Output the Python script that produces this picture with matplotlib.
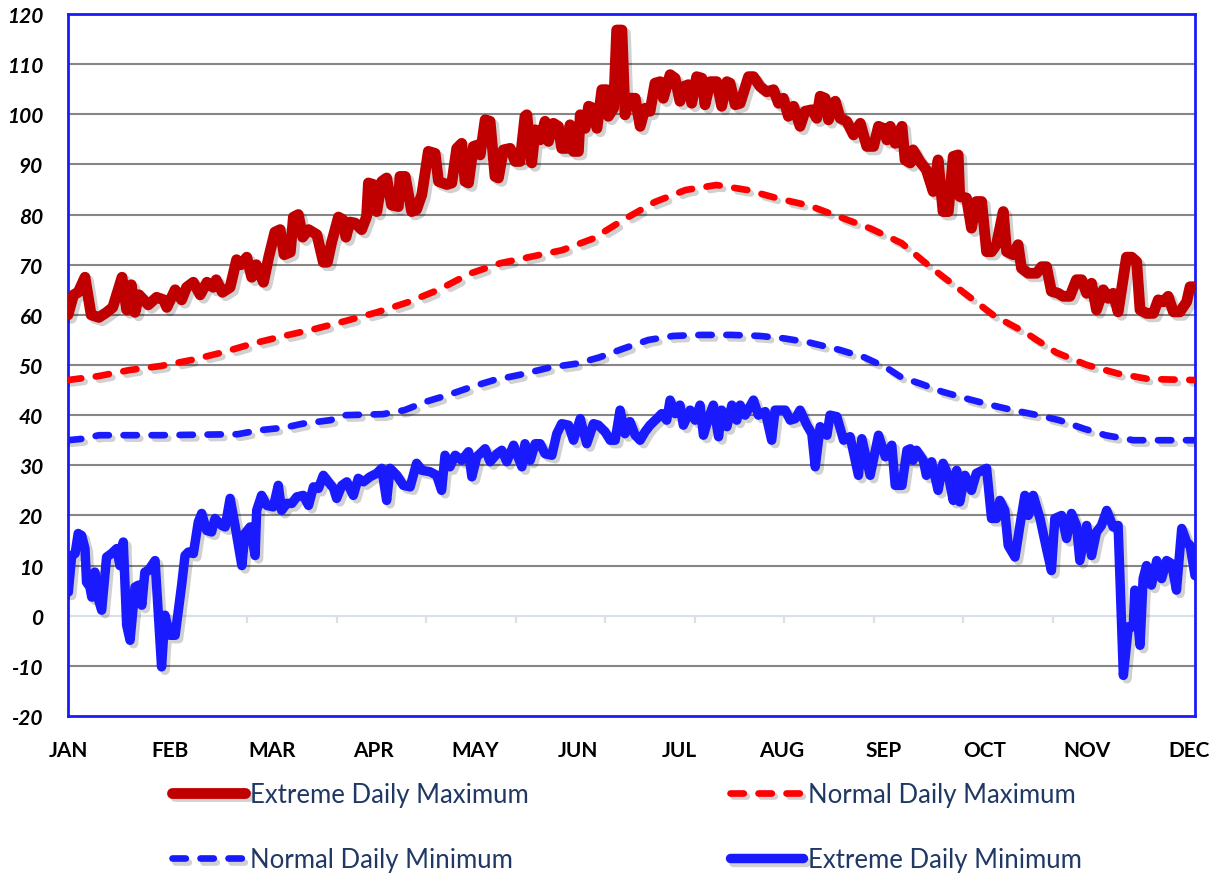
import numpy as np
import matplotlib
matplotlib.use("Agg")
import matplotlib.pyplot as plt
import matplotlib.patheffects as pe

plt.rcParams['font.family'] = ['Lato', 'DejaVu Sans']

# -----------------------------
# data (day of year, degrees F)
# -----------------------------
ext_max_days = [0, 1.8, 3.3, 5.5, 7.5, 10, 12.5, 14.5, 17.5, 19, 20.5, 21.7, 23, 26, 28.7, 31, 32, 34.7,
                36.8, 38.4, 40.6, 42.8, 45, 47, 48, 50, 52.5, 54.6, 56, 57.9, 59.5, 61, 63.3, 65, 67,
                68.7, 70, 72, 73, 74.6, 76, 77.9, 80.6, 82.7, 84, 85.4, 87.6, 89, 90, 91.3, 93, 95.1,
                96.7, 97.3, 98.9, 100, 101.6, 103.2, 104.8, 107, 107.5, 109.2, 111.3, 112.9, 114.6,
                116.7, 118.9, 120, 122.7, 124.3, 125.9, 127.5, 128.6, 129.7, 131.3, 132.9, 133.5,
                135.1, 136.7, 138.3, 139.4, 141, 143.2, 144.8, 146.4, 148, 148.6, 150.2, 151.3, 152.9,
                154.5, 155.6, 157.2, 158.8, 159.9, 161.5, 162.6, 163.7, 165.3, 165.9, 167.5, 168.6,
                170.2, 171.3, 172.9, 174.5, 175, 176.7, 177.7, 179.4, 180.4, 182, 183.7, 185.3, 186.9,
                188.5, 190.1, 191.8, 192.8, 195, 196.6, 198.2, 199.3, 200.9, 202, 203.6, 205.3, 206.3,
                208, 210.1, 211.7, 213.4, 214.4, 216.1, 217.7, 220.4, 222, 224.2, 226.3, 228.5, 230.1,
                231.7, 233.3, 235, 237.1, 238.7, 240.9, 242.5, 243.6, 245.2, 246.3, 248.5, 250.1,
                252.2, 254.4, 256.6, 258.7, 260.9, 262.5, 264.1, 265.2, 266.3, 267.9, 270.1, 271.1,
                272.8, 273.7, 275.9, 278, 280.2, 281.8, 283.4, 285.1, 286.7, 288.3, 288.8, 291, 292.6,
                294.2, 295.9, 297.5, 299.1, 300.7, 302.9, 304, 306.1, 307.7, 308.8, 311, 313.7, 315.3,
                316.9, 318.5, 320.7, 322.3, 324.5, 326.6, 328.3, 329.9, 331.5, 333.1, 335.3, 336.9,
                338.5, 340.1, 342.8, 344.5, 346.1, 347.2, 349.3, 351.5, 353.1, 354.7, 356.3, 358,
                360.1, 362.3, 363.4, 365]
ext_max_vals = [60, 64, 64.5, 67.5, 60, 59.5, 60.5, 61.5, 67.5, 61, 66, 60.5, 64, 62, 63.5, 63, 61.5, 65,
                63, 65.5, 66.5, 64, 66.5, 65.5, 67, 64.5, 65.5, 71, 70, 71.5, 67.5, 70, 66.5, 71.5, 76.5,
                77, 72, 72.5, 79.5, 80, 75.5, 77, 76, 70.5, 70.5, 74.5, 79.5, 79, 75.5, 78.5, 78.3, 77,
                79.6, 86.3, 86, 80.6, 86.6, 87.3, 81.9, 81.6, 87.6, 87.6, 80.6, 81, 84,
                92.6, 92.2, 86.6, 86, 86.3, 93.2, 94.2, 86.6, 86.3, 93.6, 93.9, 91.9,
                98.9, 98.6, 87.6, 87.3, 92.9, 93.2, 90.6, 90.6, 99.6, 99.9, 90.3, 96.9, 94.9,
                98.6, 94.6, 98.2, 97.6, 93.2, 93.2, 97.9, 92.6, 92.6, 99.9, 97.2, 101.6,
                101.2, 97.2, 104.9, 104.9, 99.6, 101.2, 116.8, 116.8, 99.9, 103.2, 103.2, 97.6, 101.2,
                100.6, 106.2, 106.5, 103.2, 107.9, 107.2, 102.6, 105.5, 105.9, 102.2, 107.5, 107.2, 101.9,
                106.5, 106.5, 101.6, 106.5, 106.2, 101.9, 102.2, 107.5, 107.5, 105.5, 104.5, 104.9, 102.2,
                103.2, 99.6, 101.6, 97.6, 100.6, 100.9, 99.2, 103.6, 103.2, 98.9, 102.6, 99.2,
                98.6, 95.9, 98.2, 93.6, 93.6, 97.6, 97.2, 94.9, 97.6, 94.2, 97.6, 90.9,
                90.3, 92.9, 90.6, 88.9, 84.6, 90.9, 80.6, 80.6, 91.6, 91.9, 83.6, 83.3, 77.3,
                82.6, 82.6, 72.6, 72.6, 74, 80.6, 72.6, 72, 74, 69.3, 68.3, 68.3, 69.6,
                69.6, 64.7, 64.3, 63.7, 63.7, 67, 67, 64.3, 66.3, 61, 65, 63.3,
                64.3, 60.6, 71.5, 71.5, 70.6, 61, 60.3, 60.3, 63, 62.6, 63.7, 60.6,
                60.6, 62.6, 65.6, 65.6]

norm_max_days = [0, 10, 20, 30, 40, 50, 60, 70, 80, 90, 100, 110, 120, 130, 140, 150, 160, 170, 180,
                 190, 200, 210, 220, 230, 240, 250, 260, 270, 280, 290, 300, 310, 320, 330, 340, 350, 365]
norm_max_vals = [47, 47.8, 49, 49.8, 51, 52.5, 54.3, 55.8, 57.2, 58.8, 60.5, 62.5, 65, 68.2, 70.3, 71.6,
                 72.9, 75.2, 79, 82.5, 84.9, 85.9, 84.9, 83.2, 81.8, 79.5, 77.2, 74.3, 69.2, 64.5, 59.8,
                 56.5, 52.5, 50, 48.3, 47.2, 47]

norm_min_days = [0, 5, 10, 30, 55, 62, 70, 76, 85, 90, 102, 109, 116, 123, 131, 138, 146, 156, 165, 172,
                 180, 188, 196, 205, 215, 224, 232, 240, 250, 258, 265, 270, 276, 283, 291, 299, 306,
                 314, 321, 329, 336, 345, 365]
norm_min_vals = [35, 35.3, 36, 36, 36.2, 37, 37.5, 38.3, 39, 40, 40.2, 41, 42.7, 44, 45.7, 47, 48, 49.5,
                 50.3, 51.5, 53.3, 55, 55.8, 56, 56, 55.8, 55.3, 54.5, 53, 51.5, 49.5, 47.5, 46.3, 44.7,
                 43.3, 42, 41, 40, 39, 37.3, 36, 35, 35]

ext_min_days = [0.1, 1.2, 2.3, 3.3, 4.4, 5.5, 6, 7.1, 7.7, 8.7, 9.8, 10.9, 12.5, 14.1, 15.8, 16.8, 17.9,
                19, 20.1, 21.7, 22.8, 23.9, 24.9, 26, 28.2, 30.3, 31.4, 33, 34.7, 36.8, 37.9, 39, 40.6,
                42.2, 43.3, 44.9, 46.5, 47.6, 49.8, 50.9, 52.5, 54.1, 56.3, 57.3, 59, 60.6, 61.1, 62.7,
                64.4, 66.5, 68.1, 69.2, 70.8, 72.5, 74.1, 76.2, 77.9, 79.5, 81.1, 82.7, 84.3, 86, 87,
                88.7, 90.3, 92.4, 94, 95.7, 97.8, 100, 101.6, 103.2, 104.3, 106.5, 108.6, 110.8, 112.9,
                114.6, 117.3, 119.4, 121, 122.1, 123.7, 125.4, 127.5, 129.7, 130.8, 132.4, 135.1,
                136.7, 138.9, 140.5, 142.1, 144.3, 145.9, 147, 148, 149.7, 151.3, 152.9, 154.5, 156.7,
                158.3, 159.9, 162.1, 163.7, 165.9, 168, 170.2, 171.8, 173.9, 175.6, 177.2, 178.8,
                180.4, 182, 183.7, 185.3, 186.9, 188.5, 190.7, 192.3, 193.9, 195, 196.6, 198.2, 199.3,
                201.5, 203.1, 204.7, 205.8, 207.4, 209, 210.7, 211.7, 213.4, 215, 216.6, 217.7, 219.3,
                222, 223.6, 225.8, 227.9, 229, 232.3, 233.9, 235.5, 237.1, 239.3, 240.9, 242, 243.6,
                245.8, 246.8, 249, 251.2, 253.3, 256, 257.1, 259.8, 262.5, 264.7, 266.8, 267.9, 270.1,
                271.7, 272.8, 273.7, 274.8, 277, 278, 279.7, 281.8, 283.4, 285.1, 286.7, 287.8, 288.8,
                290.5, 292.6, 294.2, 297.5, 299.1, 300.7, 301.8, 303.4, 304.5, 306.7, 308.3, 309.9,
                311, 312.6, 314.8, 316.9, 318.5, 319.6, 321.8, 323.4, 325, 326.6, 327.7, 329.9, 331.5,
                333.1, 334.7, 336.4, 338.5, 340.1, 341.8, 343.4, 345, 345.5, 347.2, 348.2, 349.3,
                350.9, 352.6, 354.2, 355.8, 357.4, 359, 360.7, 362.3, 363.4, 365]
ext_min_vals = [4.7, 12, 12.4, 16.4, 16, 13.4, 6.7, 5.7, 3.7, 8.7, 3.4, 1.1, 11.7, 12.4, 13.4, 10, 14.7,
                -1.9, -4.9, 5.7, 6.1, 2.1, 8.7, 9, 11, -10.2, 0.1, -3.9, -3.9, 6.1, 12, 12.7, 12.4,
                18.7, 20.4, 17, 16.7, 19.4, 18, 17.7, 23.4, 18, 10, 16.4, 17.7, 12, 21, 24,
                22, 21.7, 26, 21, 22.4, 22.4, 23.7, 24, 22, 25.7, 25.4, 28, 26.7, 25.4, 23.4,
                26, 26.7, 24, 27.4, 26.7, 27.7, 28.4, 29.4, 23, 29.4, 28, 26, 25.7, 30.4,
                29, 28.7, 28, 25, 32, 29.7, 32, 31, 32.7, 27.7, 31.7, 33.3,
                30.7, 32.3, 33, 30.7, 34, 31.4, 29.7, 34.3, 31, 34.3, 34.3, 32.3, 32,
                36.3, 38.3, 38, 35, 39.3, 34.3, 38.3, 38, 36.7, 35, 35, 41,
                36.3, 38.7, 36, 35, 36.7, 38, 39.3, 40.3, 39, 43, 40.3, 42, 38,
                41, 39, 42, 36, 39.3, 42, 35.7, 41, 37.7, 42, 39, 42, 40,
                43, 40, 40.7, 35, 41, 41, 39, 39.3, 41, 38, 36.3, 29.7, 37.7,
                36, 40, 39.7, 35, 35.7, 28, 35.3, 28, 36, 31.7, 34, 26, 26,
                33, 33.3, 31, 33, 31, 28, 30.7, 25, 30.4, 28, 23, 29, 22.7,
                28, 25, 28.4, 29.4, 19.4, 19.4, 23, 21, 14, 11.7, 18, 24,
                20, 24, 19.4, 13.4, 9, 19.4, 20, 15.4, 20.4, 18, 11, 18, 12,
                16.7, 18, 21, 17.7, 18, -11.9, -2.2, -2.2, 5.1, -5.9, 7.4, 10,
                6.1, 11, 7.4, 11, 10.4, 5.1, 17.4, 14.7, 14, 8]

months = ["JAN", "FEB", "MAR", "APR", "MAY", "JUN", "JUL", "AUG", "SEP", "OCT", "NOV", "DEC"]

# -----------------------------
# figure
# -----------------------------
fig = plt.figure(figsize=(12.2, 8.78), dpi=100)
ax = fig.add_axes([68 / 1220, 1 - 717 / 878, 1127 / 1220, 702 / 878])

shadow = [pe.SimpleLineShadow(offset=(2.5, -2.5), shadow_color="black", alpha=0.18), pe.Normal()]

# gridlines (0 is the light category axis)
for v in range(-10, 120, 10):
    if v == 0:
        ax.axhline(0, color="#D9E0EA", lw=1.6, zorder=1)
    else:
        ax.axhline(v, color="#868686", lw=1.5, zorder=1)
ax.vlines(np.arange(0, 365, 29), -1.4, 0, color="#D9E0EA", lw=1.6, zorder=1)

l_emax, = ax.plot(ext_max_days, ext_max_vals, color="#C00000", lw=7.8, solid_joinstyle="round",
                  solid_capstyle="round", label="Extreme Daily Maximum", zorder=3,
                  path_effects=shadow)
l_nmax, = ax.plot(norm_max_days, norm_max_vals, color="#FF0000", lw=4.8, dashes=(2.0, 2.2),
                  dash_capstyle="round", label="Normal Daily Maximum", zorder=3, path_effects=shadow)
l_nmin, = ax.plot(norm_min_days, norm_min_vals, color="#1A1AFF", lw=4.8, dashes=(2.0, 2.2),
                  dash_capstyle="round", label="Normal Daily Minimum", zorder=3, path_effects=shadow)
l_emin, = ax.plot(ext_min_days, ext_min_vals, color="#1A1AFF", lw=6.8, solid_joinstyle="round",
                  solid_capstyle="round", label="Extreme Daily Minimum", zorder=3, path_effects=shadow)

ax.set_xlim(0, 365)
ax.set_ylim(-20, 120)
ax.set_yticks(range(-20, 121, 10))
ax.set_yticklabels([str(v) for v in range(-20, 121, 10)], fontsize=15, fontweight="bold",
                   fontstyle="italic")
ax.set_xticks(np.linspace(0, 363, 12))
ax.set_xticklabels(months, fontsize=15, fontweight="bold")
ax.tick_params(axis="y", length=0, pad=18)
ax.tick_params(axis="x", length=0, pad=17)
for s in ax.spines.values():
    s.set_color("#1A1AFF")
    s.set_linewidth(2)

handles = [l_emax, l_nmin, l_nmax, l_emin]
leg = fig.legend(handles=handles, labels=[h.get_label() for h in handles], ncol=2,
                 loc="upper left", bbox_to_anchor=(172 / 1220, 1 - 783 / 878), frameon=False,
                 fontsize=18.5, handlelength=2.85, handletextpad=0.2, columnspacing=7.8,
                 labelspacing=1.57, borderpad=0, borderaxespad=0)
for t in leg.get_texts():
    t.set_color("#203864")

fig.savefig("out.png", dpi=100)
